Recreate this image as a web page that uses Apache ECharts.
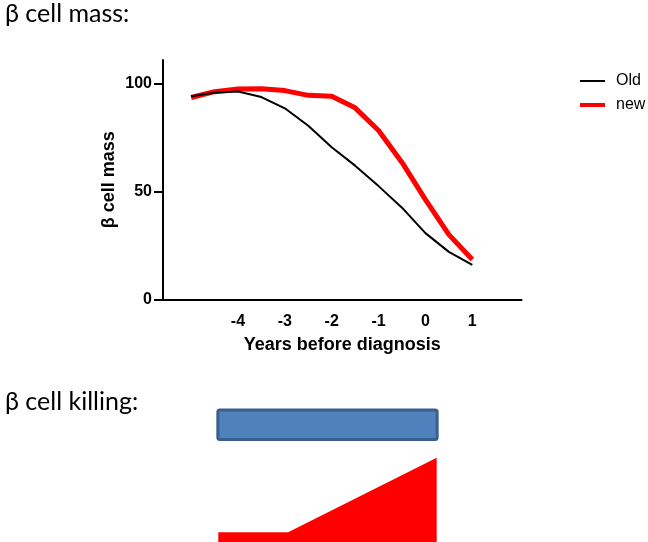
<!DOCTYPE html>
<html>
<head>
<meta charset="utf-8">
<script src="https://cdn.jsdelivr.net/npm/echarts@6/dist/echarts.min.js"></script>
<style>
html,body{margin:0;padding:0;background:#fff;}
#c{width:648px;height:542px;}
</style>
</head>
<body>
<div id="c"></div>
<script>
// ---- data ----
var years = [-5, -4.5, -4, -3.5, -3, -2.5, -2, -1.5, -1, -0.5, 0, 0.5, 1];
var oldMass = [94.2, 95.8, 96.4, 93.8, 88.6, 80.5, 70.5, 62.0, 52.5, 42.5, 30.7, 22.0, 16.0];
var newMass = [93.6, 96.3, 97.5, 97.7, 96.8, 94.6, 94.2, 88.8, 78.3, 63.5, 46.2, 30.0, 18.5];
var xTicks = [-4, -3, -2, -1, 0, 1];
var yTicks = [0, 50, 100];
// schematic "beta cell killing" panel (same year scale)
var killingX = [-4.42, -2.93, 0.24];
var killingY = [9.7, 9.7, 84.3];
var barSpan = [-4.43, 0.25];     // blue bar start / end (years)
var barLevel = [102.5, 132];     // blue bar lower / upper level

function pairs(xs, ys) { return xs.map(function (x, i) { return [x, ys[i]]; }); }

var chart = echarts.init(document.getElementById('c'), null, { renderer: 'canvas' });
var boldFont = 'Liberation Sans, Arial, sans-serif';

chart.setOption({
  animation: false,
  backgroundColor: '#ffffff',
  title: [
    { text: 'β cell mass:', left: 0, top: -4,
      textStyle: { fontFamily: 'Lato', fontWeight: 'normal', fontSize: 25, color: '#000' } },
    { text: 'β cell killing:', left: 0, top: 384,
      textStyle: { fontFamily: 'Lato', fontWeight: 'normal', fontSize: 25, color: '#000' } }
  ],
  legend: {
    orient: 'vertical', left: 573, top: 68, itemWidth: 25, itemHeight: 14, itemGap: 8,
    itemStyle: { opacity: 0 },
    textStyle: { fontFamily: boldFont, fontSize: 16, color: '#000', padding: [0, 0, 0, 6] },
    data: [
      { name: 'Old', lineStyle: { width: 2, color: '#000' } },
      { name: 'new', lineStyle: { width: 4, color: '#ff0000' } }
    ]
  },
  grid: [
    { left: 163, right: 126.5, top: 60, bottom: 242.7 },
    { left: 163, right: 126.5, top: 400, bottom: 0 }
  ],
  xAxis: [
    { type: 'value', gridIndex: 0, min: -5.6, max: 2.05,
      name: 'Years before diagnosis', nameLocation: 'middle', nameGap: 37,
      nameTextStyle: { fontFamily: boldFont, fontWeight: 'bold', fontSize: 18, color: '#000' },
      axisLine: { show: true, onZero: false, lineStyle: { color: '#000', width: 2 } },
      axisTick: { show: false },
      splitLine: { show: false },
      axisLabel: { customValues: xTicks, margin: 14, fontFamily: boldFont, fontWeight: 'bold', fontSize: 16, color: '#000' } },
    { type: 'value', gridIndex: 1, min: -5.6, max: 2.05, show: false }
  ],
  yAxis: [
    { type: 'value', gridIndex: 0, min: 0, max: 111,
      name: 'β cell mass', nameLocation: 'middle', nameGap: 45, nameMoveOverlap: false,
      nameTextStyle: { fontFamily: boldFont, fontWeight: 'bold', fontSize: 18, color: '#000' },
      axisLine: { show: true, onZero: false, lineStyle: { color: '#000', width: 2 } },
      axisTick: { show: true, customValues: yTicks, length: 9, lineStyle: { color: '#000', width: 2 } },
      splitLine: { show: false },
      axisLabel: { customValues: yTicks, margin: 11, fontFamily: boldFont, fontWeight: 'bold', fontSize: 16, color: '#000' } },
    { type: 'value', gridIndex: 1, min: 0, max: 142, show: false }
  ],
  series: [
    { name: 'Old', type: 'line', xAxisIndex: 0, yAxisIndex: 0, data: pairs(years, oldMass),
      symbol: 'none', smooth: false, color: '#000', lineStyle: { color: '#000', width: 2 }, z: 3 },
    { name: 'new', type: 'line', xAxisIndex: 0, yAxisIndex: 0, data: pairs(years, newMass),
      symbol: 'none', smooth: false, color: '#ff0000', lineStyle: { color: '#ff0000', width: 5 }, z: 2 },
    { name: 'killing', type: 'line', xAxisIndex: 1, yAxisIndex: 1, data: pairs(killingX, killingY),
      symbol: 'none', lineStyle: { width: 0 }, areaStyle: { color: '#ff0000', opacity: 1 }, color: '#ff0000' },
    { name: 'bar', type: 'custom', xAxisIndex: 1, yAxisIndex: 1,
      data: [[barSpan[0], barSpan[1], barLevel[0], barLevel[1]]],
      renderItem: function (params, api) {
        var p0 = api.coord([api.value(0), api.value(3)]);
        var p1 = api.coord([api.value(1), api.value(2)]);
        return { type: 'rect',
          shape: { x: p0[0], y: p0[1], width: p1[0] - p0[0], height: p1[1] - p0[1], r: 2 },
          style: { fill: '#4f81bd', stroke: '#3a5f8e', lineWidth: 3 } };
      } }
  ]
});
</script>
</body>
</html>
